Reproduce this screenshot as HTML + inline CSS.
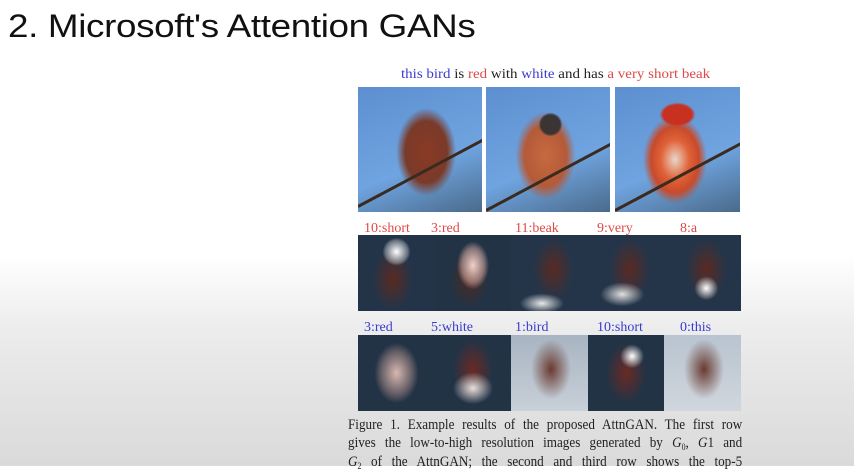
<!DOCTYPE html>
<html><head><meta charset="utf-8"><style>
*{margin:0;padding:0;box-sizing:border-box}
body{width:854px;height:466px;overflow:hidden;position:relative;font-family:"Liberation Serif",serif;
background:linear-gradient(to bottom,#fff 0,#fff 255px,#ececec 330px,#dadada 466px)}
.t{position:absolute;left:8px;top:8px;font:32px "Liberation Sans",sans-serif;color:#111;letter-spacing:-0.3px;white-space:nowrap;transform:scaleX(1.15);transform-origin:left top}
.cap{position:absolute;left:401px;top:67px;font-size:14px;white-space:nowrap;transform:scaleX(1.07);transform-origin:left top}
.r{color:#e04848}.b{color:#3a3ad0}.k{color:#222}
.img{position:absolute;overflow:hidden}
.lbl{position:absolute;font-size:14px}
.fl{position:absolute;left:348px;width:450px;font-size:15px;line-height:18px;color:#222;white-space:nowrap;text-align:justify;text-align-last:justify;transform:scaleX(0.876);transform-origin:left top}
.fl sub{font-size:9px;line-height:0;vertical-align:-3px}
.br{position:absolute;height:3px;background:#3a2a20;transform-origin:left center}
</style></head><body>
<div class="t">2. Microsoft's Attention GANs</div>
<div class="cap"><span class="b">this bird</span> <span class="k">is</span> <span class="r">red</span> <span class="k">with</span> <span class="b">white</span> <span class="k">and has</span> <span class="r">a very short beak</span></div>

<div class="img" style="left:358px;top:87px;width:124px;height:125px;background:radial-gradient(ellipse 30px 44px at 55% 52%,#8a3a26 0,#7a3a28 70%,transparent 100%),linear-gradient(160deg,#5d8fd0,#6fa4e0 60%,#4a6a8a)"><div class="br" style="left:0;top:118px;width:150px;transform:rotate(-28deg)"></div></div>
<div class="img" style="left:486px;top:87px;width:124px;height:125px;background:radial-gradient(circle 12px at 52% 30%,#3a3434 0,#3a3434 80%,transparent 100%),radial-gradient(ellipse 30px 44px at 48% 55%,#c66a40 0,#b45a38 70%,transparent 100%),linear-gradient(160deg,#5d8fd0,#6fa4e0 60%,#4a6a8a)"><div class="br" style="left:0;top:122px;width:150px;transform:rotate(-28deg)"></div></div>
<div class="img" style="left:615px;top:87px;width:125px;height:125px;background:radial-gradient(ellipse 18px 12px at 50% 22%,#c83020 0,#c83020 80%,transparent 100%),radial-gradient(ellipse 32px 44px at 48% 58%,#e9d6c8 0,#e06238 45%,#c84a2a 75%,transparent 100%),linear-gradient(160deg,#5d8fd0,#6fa4e0 60%,#4a6a8a)"><div class="br" style="left:0;top:122px;width:150px;transform:rotate(-28deg)"></div></div>

<div class="lbl r" style="left:364px;top:221px">10:short</div>
<div class="lbl r" style="left:431px;top:221px">3:red</div>
<div class="lbl r" style="left:515px;top:221px">11:beak</div>
<div class="lbl r" style="left:597px;top:221px">9:very</div>
<div class="lbl r" style="left:680px;top:221px">8:a</div>

<div class="img" style="left:358px;top:235px;width:77px;height:76px;background:radial-gradient(circle 14px at 50% 22%,#fff 0,rgba(255,255,255,.3) 80%,transparent 100%),radial-gradient(ellipse 20px 30px at 45% 58%,#5a2a22,transparent),#243448"></div>
<div class="img" style="left:435px;top:235px;width:76px;height:76px;background:radial-gradient(ellipse 16px 24px at 50% 40%,#f0d0c8 0,rgba(230,180,170,.5) 70%,transparent 100%),radial-gradient(ellipse 20px 30px at 45% 58%,#4a2a22,transparent),#223346"></div>
<div class="img" style="left:511px;top:235px;width:77px;height:76px;background:radial-gradient(ellipse 22px 10px at 40% 90%,#e8e8e8,transparent),radial-gradient(ellipse 20px 30px at 55% 45%,#5a2a22,transparent),#253549"></div>
<div class="img" style="left:588px;top:235px;width:76px;height:76px;background:radial-gradient(ellipse 22px 12px at 45% 78%,#e0e0e0,transparent),radial-gradient(ellipse 20px 30px at 55% 45%,#5a2a22,transparent),#253549"></div>
<div class="img" style="left:664px;top:235px;width:77px;height:76px;background:radial-gradient(circle 12px at 55% 70%,#fff,transparent),radial-gradient(ellipse 20px 30px at 55% 45%,#5a2a22,transparent),#253549"></div>

<div class="lbl b" style="left:364px;top:320px">3:red</div>
<div class="lbl b" style="left:431px;top:320px">5:white</div>
<div class="lbl b" style="left:515px;top:320px">1:bird</div>
<div class="lbl b" style="left:597px;top:320px">10:short</div>
<div class="lbl b" style="left:680px;top:320px">0:this</div>

<div class="img" style="left:358px;top:335px;width:77px;height:76px;background:radial-gradient(ellipse 22px 30px at 50% 50%,#d8b8b0,rgba(200,160,150,.4) 70%,transparent),#233346"></div>
<div class="img" style="left:435px;top:335px;width:76px;height:76px;background:radial-gradient(ellipse 20px 16px at 50% 70%,#e8e0dc,transparent),radial-gradient(ellipse 20px 30px at 50% 45%,#6a2a24,transparent),#223346"></div>
<div class="img" style="left:511px;top:335px;width:77px;height:76px;background:radial-gradient(ellipse 20px 30px at 52% 45%,#6a3a30,transparent),linear-gradient(#a8b4c2,#c8d0d8)"></div>
<div class="img" style="left:588px;top:335px;width:76px;height:76px;background:radial-gradient(circle 12px at 58% 28%,#fff,transparent),radial-gradient(ellipse 20px 30px at 50% 50%,#6a2a24,transparent),#223346"></div>
<div class="img" style="left:664px;top:335px;width:77px;height:76px;background:radial-gradient(ellipse 20px 30px at 52% 45%,#6a3a30,transparent),linear-gradient(#b8c4d0,#d0d6dc)"></div>

<div class="fl" style="top:416px">Figure 1. Example results of the proposed AttnGAN. The first row</div>
<div class="fl" style="top:434px">gives the low-to-high resolution images generated by <i>G</i><sub>0</sub>, <i>G</i>1 and</div>
<div class="fl" style="top:453px"><i>G</i><sub>2</sub> of the AttnGAN; the second and third row shows the top-5</div>
</body></html>
